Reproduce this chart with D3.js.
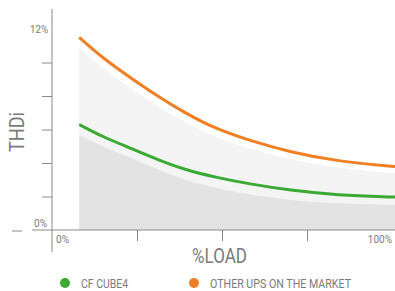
<!DOCTYPE html>
<html>
<head>
<meta charset="utf-8">
<script src="https://cdn.jsdelivr.net/npm/d3@7"></script>
<style>
  body { margin: 0; background: #fff; }
  text { font-family: "Liberation Sans Narrow", "Roboto", sans-serif; fill: #7a7a7a; }
</style>
</head>
<body>
<div id="chart"></div>
<script>
// data
const load = [8, 15, 23, 31, 39, 48, 58, 70, 84, 100, 101]
const otherUps = [11.5, 10.25, 9.1, 8.0, 7.0, 6.05, 5.35, 4.65, 4.1, 3.8, 3.79]
const cfCube = [6.3, 5.55, 4.9, 4.2, 3.6, 3.15, 2.75, 2.37, 2.08, 1.97, 1.97]
const lightBand = [10.9, 9.6, 8.5, 7.4, 6.45, 5.55, 4.85, 4.2, 3.7, 3.4, 3.4]
const darkBand = [5.67, 4.95, 4.35, 3.6, 3.0, 2.5, 2.1, 1.78, 1.57, 1.5, 1.5]
const yTicks = [2, 4, 6, 8, 10]
const xTicks = [25, 50, 75]
const legend = [
  { name: "CF CUBE4", color: "#3aaa35" },
  { name: "OTHER UPS ON THE MARKET", color: "#f07f23" }
]

const width = 395
const height = 291

const svg = d3.select("#chart").append("svg").attr("width", width).attr("height", height)

// scales
const x = d3.scaleLinear().domain([0, 100]).range([52, 392])
const y = d3.scaleLinear().domain([0, 12]).range([230, 29])

const rows = load.map((l, i) => ({ l, o: otherUps[i], g: cfCube[i], lt: lightBand[i], dk: darkBand[i] }))

// bands
const area = key => d3.area().curve(d3.curveBasis).x(d => x(d.l)).y0(y(0)).y1(d => y(d[key]))
svg.append("path").datum(rows).attr("d", area("lt")).attr("fill", "#f4f4f4")
svg.append("path").datum(rows).attr("d", area("dk")).attr("fill", "#e3e3e3")

// lines
const line = key => d3.line().curve(d3.curveBasis).x(d => x(d.l)).y(d => y(d[key]))
svg.append("path").datum(rows).attr("d", line("o")).attr("fill", "none").attr("stroke", legend[1].color).attr("stroke-width", 3)
svg.append("path").datum(rows).attr("d", line("g")).attr("fill", "none").attr("stroke", legend[0].color).attr("stroke-width", 3)

// axes
const axisColor = "#8a8a8a"
const yAxis = d3.axisLeft(y).tickValues(yTicks).tickFormat("").tickSize(10).tickSizeOuter(0)
const yG = svg.append("g").attr("transform", `translate(${x(0)},0)`).call(yAxis)
yG.select(".domain").remove()
yG.selectAll("line").attr("stroke", axisColor)

const xAxis = d3.axisBottom(x).tickValues(xTicks).tickFormat("").tickSize(11).tickSizeOuter(0)
const xG = svg.append("g").attr("transform", `translate(0,${y(0)})`).call(xAxis)
xG.select(".domain").remove()
xG.selectAll("line").attr("stroke", axisColor)

svg.append("line").attr("x1", x(0)).attr("x2", x(0)).attr("y1", 9).attr("y2", 252).attr("stroke", axisColor)
svg.append("line").attr("x1", 32).attr("x2", width).attr("y1", y(0)).attr("y2", y(0)).attr("stroke", axisColor)
svg.append("line").attr("x1", 12).attr("x2", 22).attr("y1", y(0) + 1).attr("y2", y(0) + 1).attr("stroke", axisColor)

// tick labels
svg.append("text").text("12%").attr("x", 48).attr("y", y(12) + 4).attr("text-anchor", "end").attr("font-size", 11)
  .attr("textLength", 18).attr("lengthAdjust", "spacingAndGlyphs")
svg.append("text").text("0%").attr("x", 47).attr("y", y(0) - 3).attr("text-anchor", "end").attr("font-size", 11)
  .attr("textLength", 13).attr("lengthAdjust", "spacingAndGlyphs")
svg.append("text").text("0%").attr("x", 56).attr("y", 243).attr("font-size", 11)
  .attr("textLength", 13).attr("lengthAdjust", "spacingAndGlyphs")
svg.append("text").text("100%").attr("x", 392).attr("y", 243).attr("text-anchor", "end").attr("font-size", 10)

// axis titles
svg.append("text").text("THDi").attr("transform", "translate(24,132) rotate(-90)").attr("text-anchor", "middle")
  .attr("font-size", 20).attr("textLength", 40).attr("lengthAdjust", "spacingAndGlyphs")
svg.append("text").text("%LOAD").attr("x", 192).attr("y", 263).attr("font-size", 20)
  .attr("textLength", 55).attr("lengthAdjust", "spacingAndGlyphs")

// legend
const legendX = [65, 194]
const legendW = [47, 141]
legend.forEach((d, i) => {
  svg.append("circle").attr("cx", legendX[i]).attr("cy", 283).attr("r", 5).attr("fill", d.color)
  svg.append("text").text(d.name).attr("x", legendX[i] + 16).attr("y", 288).attr("font-size", 13)
    .attr("textLength", legendW[i]).attr("lengthAdjust", "spacingAndGlyphs")
})
</script>
</body>
</html>
